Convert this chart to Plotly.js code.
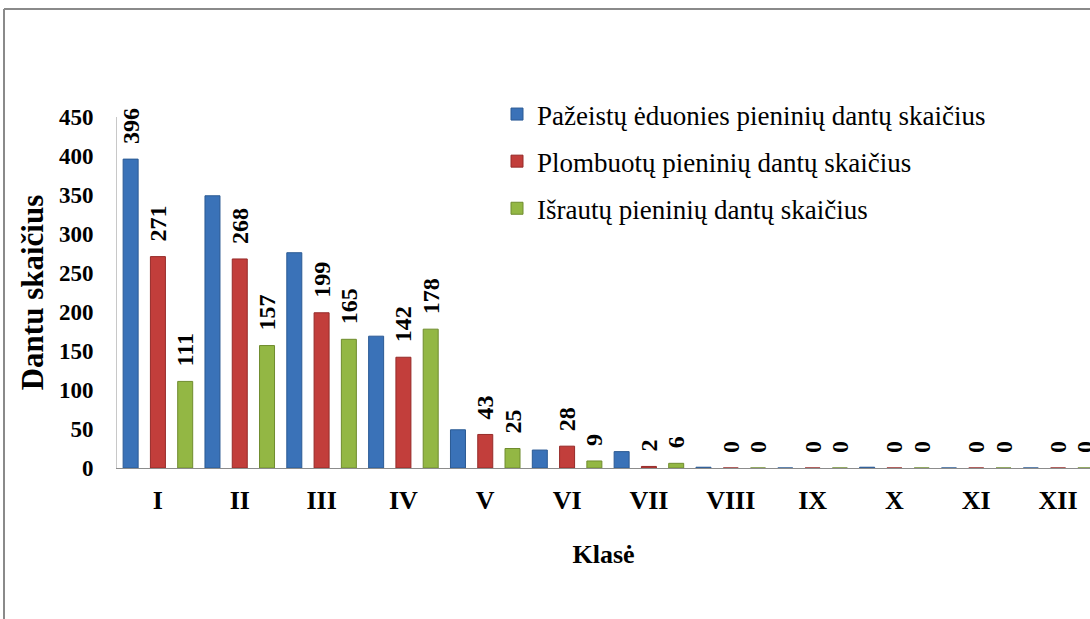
<!DOCTYPE html>
<html>
<head>
<meta charset="utf-8">
<script src="https://cdn.plot.ly/plotly-3.0.1.min.js"></script>
<style>
html, body { margin: 0; padding: 0; background: #ffffff; }
#chart { width: 1090px; height: 619px; }
</style>
</head>
<body>
<div id="chart"></div>
<script>
const categories = ['I', 'II', 'III', 'IV', 'V', 'VI', 'VII', 'VIII', 'IX', 'X', 'XI', 'XII'];
const seriesNames = [
  'Pažeistų ėduonies pieninių dantų skaičius',
  'Plombuotų pieninių dantų skaičius',
  'Išrautų pieninių dantų skaičius'
];
const decayed = [396, 349, 276, 169, 49, 23, 21, 1, 0, 1, 0, 0];
const filled = [271, 268, 199, 142, 43, 28, 2, 0, 0, 0, 0, 0];
const extracted = [111, 157, 165, 178, 25, 9, 6, 0, 0, 0, 0, 0];
// which categories show a value label for the first series
const decayedLabelShown = [true, false, false, false, false, false, false, false, false, false, false, false];
const yTicks = [0, 50, 100, 150, 200, 250, 300, 350, 400, 450];

const serif = 'Liberation Serif';
const serifRegular = '"Liberation Serif", "Times New Roman", serif';
const pad = '\u00a0\u00a0';

function labels(vals, shown) {
  return vals.map((v, i) => (shown && !shown[i]) ? '' : pad + String(v));
}

const common = {
  type: 'bar',
  x: categories,
  textposition: 'outside',
  textangle: -90,
  cliponaxis: false,
  constraintext: 'none',
  textfont: { family: serif, size: 24, color: '#000000', weight: 'bold' },
  hoverinfo: 'x+y'
};

const traces = [
  Object.assign({}, common, {
    name: seriesNames[0], y: decayed, text: labels(decayed, decayedLabelShown),
    legendgroup: 'a',
    marker: { color: '#3a72b8', line: { color: '#2b5a94', width: 1 } }
  }),
  Object.assign({}, common, {
    name: seriesNames[1], y: filled, text: labels(filled),
    legendgroup: 'b',
    marker: { color: '#c23e3b', line: { color: '#962b29', width: 1 } }
  }),
  Object.assign({}, common, {
    name: seriesNames[2], y: extracted, text: labels(extracted),
    legendgroup: 'c',
    marker: { color: '#93b744', line: { color: '#6f8c2e', width: 1 } }
  })
];

const L = 117, T = 117, B = 151, W = 1090, H = 619;
const plotW = W - L, plotH = H - T - B;
const px = v => (v - L) / plotW;
const py = v => (H - B - v) / plotH;

const layout = {
  width: W, height: H,
  margin: { l: L, r: 0, t: T, b: B, pad: 0 },
  paper_bgcolor: '#ffffff',
  plot_bgcolor: '#ffffff',
  barmode: 'group',
  bargap: 0,
  bargroupgap: 0.45,
  showlegend: true,
  legend: {
    x: px(497), y: py(90), xanchor: 'left', yanchor: 'top',
    font: { family: serifRegular, size: 27, color: '#000000', weight: 400, style: 'normal' },
    traceorder: 'grouped', tracegroupgap: 9,
    bgcolor: 'rgba(0,0,0,0)', itemwidth: 30
  },
  xaxis: {
    type: 'category',
    range: [-0.5, 11.39],
    showgrid: false, zeroline: false,
    showline: true, linecolor: '#8c8c8c', linewidth: 1,
    ticks: '', ticklabelstandoff: 9,
    tickfont: { family: serif, size: 26, color: '#000000', weight: 'bold' },
    title: { text: 'Klasė', font: { family: serif, size: 26, color: '#000000', weight: 'bold' }, standoff: 30 }
  },
  yaxis: {
    range: [0, 450],
    tickvals: yTicks,
    showgrid: false, zeroline: false,
    showline: true, linecolor: '#c8c8c8', linewidth: 1,
    ticks: '', ticklabelstandoff: 18,
    tickfont: { family: serif, size: 23, color: '#000000', weight: 'bold' },
    title: { text: 'Dantu skaičius', font: { family: serif, size: 31, color: '#000000', weight: 'bold' }, standoff: 6 }
  },
  shapes: [
    { type: 'line', xref: 'paper', yref: 'paper', x0: px(4), x1: px(1100), y0: py(9), y1: py(9), line: { color: '#8a8a8a', width: 2 } },
    { type: 'line', xref: 'paper', yref: 'paper', x0: px(4), x1: px(4), y0: py(9), y1: py(630), line: { color: '#8a8a8a', width: 2 } }
  ]
};

Plotly.newPlot('chart', traces, layout, { displayModeBar: false, staticPlot: true });
</script>
</body>
</html>
